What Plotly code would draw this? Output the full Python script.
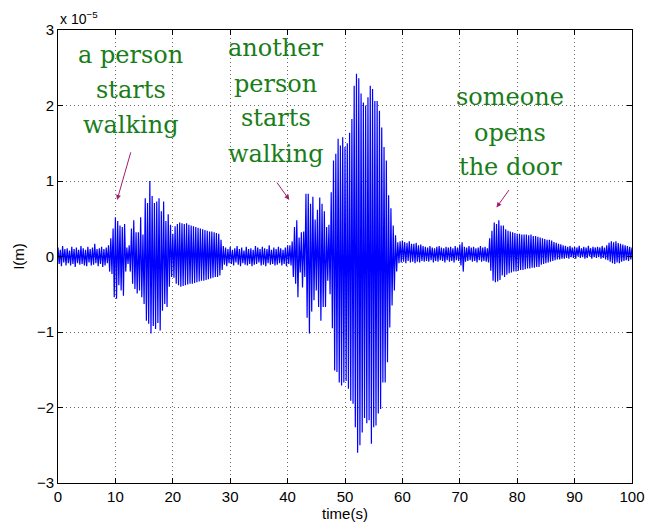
import plotly.graph_objects as go

# ---- data ----
# sampled signal I(m), in units of 1e-5, stored as hundredths; one sample every 0.2 s from t = 0 s
sample_start_s = 0.0
sample_step_s = 0.2
signal_hundredths = [
    12, -10, 9, -13, 14, -8, 10, -12, 11, -9,
    8, -12, 13, -10, 10, -14, 12, -9, 9, -11,
    14, -10, 11, -12, 9, -13, 13, -8, 10, -12,
    12, -11, 17, -9, 10, -13, 11, -10, 13, -14,
    10, -12, 12, -9, 15, -20, 24, -23, 37, -54,
    52, -56, 47, -38, 41, -45, 39, -52, 43, -20,
    12, -10, 15, -20, 37, -36, 48, -43, 32, -49,
    32, -45, 52, -54, 29, -63, 77, -85, 71, -89,
    100, -102, 80, -92, 71, -96, 73, -88, 77, -98,
    60, -72, 73, -63, 47, -67, 56, -40, 42, -27,
    30, -28, 40, -36, 43, -38, 45, -40, 44, -39,
    43, -38, 44, -37, 42, -36, 41, -36, 40, -35,
    39, -34, 38, -33, 37, -32, 36, -32, 35, -31,
    34, -30, 33, -29, 33, -28, 32, -27, 31, -27,
    30, -25, 22, -18, 14, -11, 12, -13, 10, -9,
    13, -10, 9, -12, 11, -8, 14, -11, 10, -13,
    12, -9, 8, -11, 13, -12, 10, -10, 11, -13,
    9, -11, 14, -10, 12, -8, 10, -12, 13, -11,
    11, -13, 10, -9, 15, -11, 9, -10, 12, -12,
    10, -11, 13, -9, 11, -12, 9, -10, 12, -13,
    15, -10, 15, -12, 20, -27, 39, -36, 48, -54,
    25, -21, 32, -41, 33, -27, 83, -81, 83, -102,
    70, -73, 79, -58, 49, -45, 62, -67, 78, -85,
    70, -67, 60, -67, 39, -32, 42, -50, 85, -95,
    127, -151, 136, -153, 156, -167, 147, -171, 158, -167,
    145, -165, 150, -175, 164, -191, 182, -195, 226, -226,
    242, -260, 236, -250, 216, -233, 204, -214, 200, -221,
    211, -217, 226, -248, 222, -226, 206, -224, 206, -208,
    193, -202, 171, -167, 145, -167, 127, -140, 81, -94,
    64, -65, 41, -45, 28, -20, 19, -9, 20, -8,
    21, -7, 19, -9, 18, -6, 20, -8, 17, -7,
    17, -9, 18, -7, 15, -8, 16, -6, 14, -7,
    13, -6, 12, -7, 14, -5, 12, -8, 11, -6,
    13, -7, 14, -5, 12, -6, 11, -8, 13, -5,
    12, -7, 13, -6, 11, -8, 14, -5, 12, -6,
    16, -12, 19, -20, 13, -7, 12, -6, 14, -5,
    12, -7, 13, -6, 11, -8, 12, -5, 14, -7,
    12, -6, 13, -7, 11, -8, 24, -19, 34, -32,
    45, -34, 43, -33, 48, -31, 41, -25, 41, -27,
    36, -24, 34, -22, 33, -21, 32, -20, 31, -20,
    30, -19, 30, -18, 29, -18, 29, -17, 29, -16,
    28, -16, 29, -15, 27, -15, 27, -14, 26, -14,
    25, -11, 24, -10, 23, -9, 22, -8, 22, -7,
    21, -6, 19, -5, 18, -4, 17, -4, 16, -3,
    15, -3, 14, -2, 13, -3, 14, -1, 12, -2,
    13, -3, 12, 0, 14, -2, 11, -1, 13, -3,
    12, -2, 14, 0, 11, -3, 13, -1, 12, -2,
    13, -1, 12, -3, 14, -2, 12, -4, 15, -5,
    18, -7, 20, -9, 19, -10, 20, -8, 18, -9,
    17, -7, 16, -6, 15, -5, 14, -6, 13, -4,
    12,
]
signal_e5 = [v / 100 for v in signal_hundredths]

x_ticks = [0, 10, 20, 30, 40, 50, 60, 70, 80, 90, 100]
y_ticks = [-3, -2, -1, 0, 1, 2, 3]

# event labels: (lines, centre time, y of each line), arrow (tip t, tip y, tail t, tail y)
event_lines = [
    ["a person", "starts", "walking"],
    ["another", "person", "starts", "walking"],
    ["someone", "opens", "the door"],
]
event_x = [12.7, 37.95, 78.75]
event_line_y = [
    [2.67, 2.21, 1.74],
    [2.76, 2.29, 1.83, 1.36],
    [2.11, 1.64, 1.18],
]
arrows = [
    (10.3, 0.75, 12.75, 1.40),
    (40.3, 0.75, 37.95, 1.00),
    (76.4, 0.65, 78.75, 0.90),
]

GREEN = "rgb(25,125,25)"
ARROW = "rgb(160,30,110)"
FONT = "Liberation Sans"

fig = go.Figure()
fig.add_trace(go.Scatter(
    y=signal_e5, x0=sample_start_s, dx=sample_step_s, mode="lines",
    line=dict(color="#0000ff", width=1.2), showlegend=False, hoverinfo="skip",
))

ann = []
for lines, xc, ys in zip(event_lines, event_x, event_line_y):
    for txt, yv in zip(lines, ys):
        ann.append(dict(x=xc, y=yv, xref="x", yref="y", text=txt, showarrow=False,
                        xanchor="center", yanchor="middle",
                        font=dict(family="DejaVu Serif", size=24, color=GREEN)))
for tx, ty, sx, sy in arrows:
    ann.append(dict(x=tx, y=ty, ax=sx, ay=sy, xref="x", yref="y", axref="x", ayref="y",
                    text="", showarrow=True, arrowhead=2, arrowsize=1, arrowwidth=1,
                    arrowcolor=ARROW))
ann.append(dict(x=0, y=1, xref="paper", yref="paper", xanchor="left", yanchor="bottom",
                text="x 10<sup>\u22125</sup>", showarrow=False, yshift=1,
                font=dict(family=FONT, size=14, color="black")))

axis_common = dict(
    showline=True, linecolor="black", linewidth=1, mirror="ticks",
    ticks="inside", ticklen=5, tickcolor="black", automargin=False,
    showgrid=True, gridcolor="rgba(40,40,40,0.7)", gridwidth=1, griddash="1px,3px",
    zeroline=False, tickfont=dict(family=FONT, size=15, color="black"),
)

fig.update_layout(
    width=648, height=529,
    margin=dict(l=58, r=16, t=30, b=46),
    paper_bgcolor="white", plot_bgcolor="white",
    font=dict(family=FONT, size=15, color="black"),
    xaxis=dict(range=[0, 100], tickvals=x_ticks, title=dict(text="time(s)", standoff=4,
               font=dict(family=FONT, size=15)), **axis_common),
    yaxis=dict(range=[-3, 3], tickvals=y_ticks, title=dict(text="I(m)", standoff=8,
               font=dict(family=FONT, size=15)), **axis_common),
    annotations=ann,
)

fig.write_html("out.html", config={"displayModeBar": False},
               post_script="document.body.style.margin='0';")
